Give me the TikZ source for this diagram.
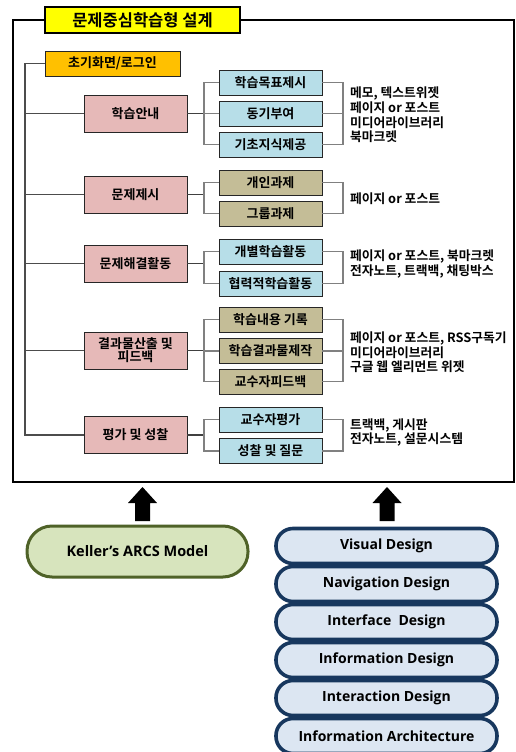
\documentclass[tikz,border=0pt]{standalone}
\usepackage{fontspec}
\setmainfont{Noto Sans CJK KR}[BoldFont={Noto Sans CJK KR Bold}]
\newfontfamily\enfont{Open Sans}[BoldFont={Open Sans Bold}]
\definecolor{pinkfill}{HTML}{E6B9B8}
\definecolor{bluefill}{HTML}{B7DEE8}
\definecolor{tanfill}{HTML}{C4BD97}
\definecolor{orangefill}{HTML}{FFC000}
\definecolor{titlefill}{HTML}{FFFF00}
\definecolor{boxline}{HTML}{262626}
\definecolor{connline}{HTML}{808080}
\definecolor{greenfill}{HTML}{D7E4BD}
\definecolor{greenline}{HTML}{4F6228}
\definecolor{navyfill}{HTML}{DCE6F2}
\definecolor{navyline}{HTML}{17375E}
\begin{document}
\begin{tikzpicture}[x=1pt,y=-1pt,
  every node/.style={inner sep=0pt, outer sep=0pt},
  titlebox/.style={draw=black, line width=2.2pt, fill=titlefill, minimum width=195pt, minimum height=26pt, font=\fontsize{16.5}{18}\selectfont\bfseries},
  initbox/.style={draw=boxline, line width=0.9pt, fill=orangefill, minimum width=135pt, minimum height=25pt, font=\fontsize{13}{15}\selectfont\bfseries},
  mainbox/.style={draw=boxline, line width=0.9pt, fill=pinkfill, minimum width=103pt, minimum height=37pt, align=center, font=\fontsize{13}{15}\selectfont\bfseries},
  subblue/.style={draw=boxline, line width=0.9pt, fill=bluefill, minimum width=103pt, minimum height=25pt, font=\fontsize{13}{15}\selectfont\bfseries},
  subtan/.style={draw=boxline, line width=0.9pt, fill=tanfill, minimum width=103pt, minimum height=25pt, font=\fontsize{13}{15}\selectfont\bfseries},
  sidetext/.style={anchor=west, align=left, font=\fontsize{12.8}{14.7}\selectfont\bfseries},
  conn/.style={draw=connline, line width=1.3pt},
  mainconn/.style={draw=black!75, line width=1.5pt},
  greenpill/.style={draw=greenline, line width=3pt, fill=greenfill, rounded corners=25pt, minimum width=221pt, minimum height=51pt, font=\enfont\fontsize{14.5}{16}\selectfont\bfseries},
  navypill/.style={draw=navyline, line width=3.6pt, fill=navyfill, rounded corners=17pt, minimum width=221pt, minimum height=35pt, font=\enfont\fontsize{14}{16}\selectfont\bfseries},
  blockarrow/.style={fill=black}
]
\useasboundingbox (0,0) rectangle (515,752);
\fill[white] (0,0) rectangle (515,752);

% coordinates for spine and brackets
\coordinate (sp) at (25,0);
\coordinate (lb) at (204,0);
\coordinate (rb) at (343,0);

% title and frame
\node[titlebox] (title) at (142.5,20) {문제중심학습형 설계};
\coordinate (fTL) at (13,20);
\coordinate (fBL) at (13,482);
\coordinate (fBR) at (514,482);
\coordinate (fTR) at (514,20);
\draw[line width=2.2pt, line join=miter] (title.west) -- (fTL) -- (fBL) -- (fBR) -- (fTR) -- (title.east);

% level 1
\node[initbox] (init) at (112.5,63.5) {초기화면/로그인};
\node[mainbox] (m1) at (135.5,113.5) {학습안내};
\node[mainbox] (m2) at (135.5,194.5) {문제제시};
\node[mainbox] (m3) at (135.5,263.5) {문제해결활동};
\node[mainbox] (m4) at (135.5,350.5) {결과물산출 및\\[-2pt]피드백};
\node[mainbox] (m5) at (135.5,435) {평가 및 성찰};

% level 2
\node[subblue] (s11) at (270.5,82.5) {학습목표제시};
\node[subblue] (s12) at (270.5,113.5) {동기부여};
\node[subblue] (s13) at (270.5,144.5) {기초지식제공};
\node[subtan] (s21) at (270.5,182.5) {개인과제};
\node[subtan] (s22) at (270.5,213.5) {그룹과제};
\node[subblue] (s31) at (270.5,251.5) {개별학습활동};
\node[subblue] (s32) at (270.5,283.5) {협력적학습활동};
\node[subtan] (s41) at (270.5,319.5) {학습내용 기록};
\node[subtan] (s42) at (270.5,351) {학습결과물제작};
\node[subtan] (s43) at (270.5,381.5) {교수자피드백};
\node[subblue] (s51) at (270.5,419.5) {교수자평가};
\node[subblue] (s52) at (270.5,451) {성찰 및 질문};

% side texts
\node[sidetext] (t1) at (350,115) {메모, 텍스트위젯\\페이지 or 포스트\\미디어라이브러리\\북마크렛};
\node[sidetext] (t2) at (350,199) {페이지 or 포스트};
\node[sidetext] (t3) at (350,264) {페이지 or 포스트, 북마크렛\\전자노트, 트랙백, 채팅박스};
\node[sidetext] (t4) at (350,352.5) {페이지 or 포스트, RSS구독기\\미디어라이브러리\\구글 웹 엘리먼트 위젯};
\node[sidetext] (t5) at (350,432.5) {트랙백, 게시판\\전자노트, 설문시스템};

% spine
\draw[conn, draw=black!70] (init.west) -- (init.west -| sp) |- (m5.west);
\foreach \m in {m1,m2,m3,m4}{\draw[conn, draw=black!70] (\m.west) -- (\m.west -| sp);}

% brackets
\foreach \m/\a/\b in {m1/s11/s13, m2/s21/s22, m3/s31/s32, m4/s41/s43, m5/s51/s52}{
  \draw[mainconn] (\m.east) -- (\m.east -| lb);
  \draw[conn] (\a.west) -- (\a.west -| lb) |- (\b.west);
  \draw[conn] (\a.east) -- (\a.east -| rb) |- (\b.east);
}
\draw[conn] (s12.west) -- (s12.west -| lb);
\draw[conn] (s12.east) -- (s12.east -| rb);
\draw[conn] (s42.west) -- (s42.west -| lb);
\draw[conn] (s42.east) -- (s42.east -| rb);

% bottom pills
\node[greenpill] (arcs) at (137.5,551.5) {Keller’s ARCS Model};
\node[navypill] (p1) at (386.5,546) {Visual Design};
\node[navypill] (p2) at (386.5,584) {Navigation Design};
\node[navypill] (p3) at (386.5,622) {Interface~ Design};
\node[navypill] (p4) at (386.5,660) {Information Design};
\node[navypill] (p5) at (386.5,698) {Interaction Design};
\node[navypill] (p6) at (386.5,736) {Information Architecture};

% block arrows
\coordinate (a1) at (142.5,487);
\coordinate (a2) at (387,487);
\foreach \a in {a1,a2}{
  \fill[blockarrow] (\a) -- ++(14.5,16) -- ++(-7,0) -- ++(0,18) -- ++(-15,0) -- ++(0,-18) -- ++(-7,0) -- cycle;
}
\end{tikzpicture}
\end{document}
